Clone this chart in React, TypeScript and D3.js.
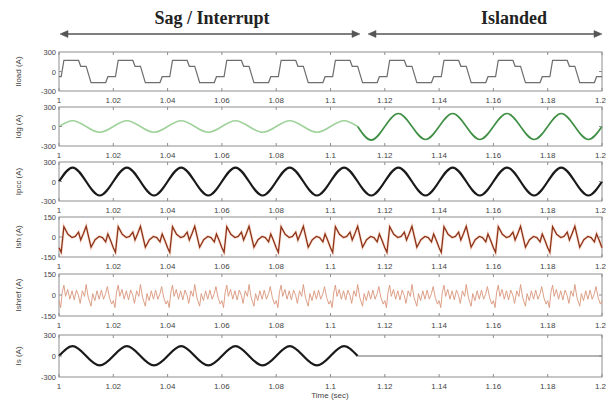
import React from 'react';
import * as d3 from 'd3';

// time axis
const timeTicks = [1, 1.02, 1.04, 1.06, 1.08, 1.1, 1.12, 1.14, 1.16, 1.18, 1.2];
const timeLabels = ['1', '1.02', '1.04', '1.06', '1.08', '1.1', '1.12', '1.14', '1.16', '1.18', '1.2'];
const sagEnd = 1.11;
const period = 0.02;
const cycleStarts = [1, 1.02, 1.04, 1.06, 1.08, 1.1, 1.12, 1.14, 1.16, 1.18];

// Iload: one cycle of the stepped load current (phase within cycle, amps)
const loadPhase = [0, 0.04, 0.09, 0.36, 0.4, 0.5, 0.59, 0.86, 0.9, 1];
const loadValue = [-80, -80, 170, 170, 80, 80, -170, -170, -80, -80];

// Ish: one cycle of the shunt current
const ishPhase = [0, 0.04, 0.09, 0.165, 0.24, 0.3, 0.36, 0.4, 0.45, 0.5, 0.59, 0.665, 0.74, 0.8, 0.86, 0.9, 0.95, 1];
const ishValue = [-80, -115, 77, 20, -4, 4, 36, -22, 26, 80, -77, -20, 4, -4, -36, 22, -26, -80];

// Ishref: one cycle of the reference current
const refPhase = [0, 0.03, 0.06, 0.09, 0.12, 0.16, 0.2, 0.24, 0.28, 0.32, 0.36, 0.39, 0.43, 0.47, 0.5, 0.54, 0.59, 0.62, 0.66, 0.7, 0.74, 0.78, 0.82, 0.86, 0.89, 0.93, 0.97, 1];
const refValue = [-40, -90, 20, 70, -10, 40, -30, 30, -35, 35, -5, -60, 30, -10, 75, -20, -80, 10, -40, 30, -30, 35, -30, 10, 60, -20, -65, -40];

// half-cycle peaks (every 0.01 s starting at t = 1)
const ipccPeaks = [215, -215, 215, -215, 215, -215, 215, -215, 215, -215, 215, -215, 215, -215, 215, -215, 215, -215, 215, -215];
const idgSagPeaks = [90, -90, 90, -90, 90, -90, 90, -90, 90, -90, 90];
const idgIslandPeaks = [-210, 200, -200, 200, -200, 200, -200, 200, -200];
const isPeaks = [140, -135, 140, -135, 140, -135, 140, -135, 140, -135, 140];

const panels = [
  { name: 'Iload (A)', top: 52, bottom: 91, lim: 300 },
  { name: 'Idg (A)', top: 107, bottom: 146, lim: 300 },
  { name: 'Ipcc (A)', top: 162, bottom: 201, lim: 300 },
  { name: 'Ish (A)', top: 217, bottom: 257, lim: 150 },
  { name: 'Ishref (A)', top: 274, bottom: 316, lim: 150 },
  { name: 'Is (A)', top: 335, bottom: 377, lim: 300 },
];

const x = d3.scaleLinear().domain([1, 1.2]).range([59, 602]);
const sans = 'Liberation Sans, Arial, sans-serif';

const tile = (phase: number[], value: number[]) => {
  const pts: [number, number][] = [];
  cycleStarts.forEach((c, i) => {
    phase.forEach((p, j) => {
      if (i > 0 && j === 0) return;
      pts.push([c + p * period, value[j]]);
    });
  });
  return pts;
};

const halfWaves = (start: number, peaks: number[]) => {
  const pts: [number, number][] = [[start, 0]];
  peaks.forEach((pk, i) => {
    const t0 = start + i * period / 2;
    pts.push([t0 + period / 4, pk]);
    pts.push([t0 + period / 2, 0]);
  });
  return pts;
};

const Panel = ({ p, children }: any) => {
  const y = d3.scaleLinear().domain([-p.lim, p.lim]).range([p.bottom, p.top]);
  const mid = y(0);
  const last = timeTicks.length - 1;
  return (
    <g>
      <rect x={x(1)} y={p.top} width={x(1.2) - x(1)} height={p.bottom - p.top} fill="#fff" stroke="#8e8e8e" strokeWidth={1} />
      {children(y)}
      {timeTicks.map((t, i) => (
        <g key={i}>
          <line x1={x(t)} x2={x(t)} y1={p.top} y2={p.top + 3} stroke="#8e8e8e" />
          <line x1={x(t)} x2={x(t)} y1={p.bottom} y2={p.bottom - 3} stroke="#8e8e8e" />
          <text x={i === last ? 606 : x(t)} y={p.bottom + 12} textAnchor={i === last ? 'end' : 'middle'} fontSize={8} fill="#444" fontFamily={sans}>{timeLabels[i]}</text>
        </g>
      ))}
      <line x1={x(1)} x2={x(1) + 3} y1={mid} y2={mid} stroke="#8e8e8e" />
      <line x1={x(1.2)} x2={x(1.2) - 3} y1={mid} y2={mid} stroke="#8e8e8e" />
      {[p.lim, 0, -p.lim].map((v) => (
        <text key={v} x={56} y={y(v) + 3} textAnchor="end" fontSize={7.5} fill="#444" fontFamily={sans}>{v}</text>
      ))}
      <text transform={`translate(21,${(p.top + p.bottom) / 2}) rotate(-90)`} textAnchor="middle" fontSize={8} fill="#444" fontFamily={sans}>{p.name}</text>
    </g>
  );
};

const Arrow = ({ x1, x2, yy }: any) => (
  <g fill="#555" stroke="#555">
    <line x1={x1 + 4} x2={x2 - 4} y1={yy} y2={yy} strokeWidth={1.5} />
    <path d={`M${x1},${yy} l8,-3.5 l0,7 z`} strokeWidth={0.5} />
    <path d={`M${x2},${yy} l-8,-3.5 l0,7 z`} strokeWidth={0.5} />
  </g>
);

export default function App() {
  const lin = (y: any) => d3.line<[number, number]>().x((d) => x(d[0])).y((d) => y(d[1]));
  const smooth = (y: any) => d3.line<[number, number]>().x((d) => x(d[0])).y((d) => y(d[1])).curve(d3.curveNatural);

  const loadPts = tile(loadPhase, loadValue);
  const ishPts = tile(ishPhase, ishValue);
  const refPts = tile(refPhase, refValue);
  const ipccPts = halfWaves(1, ipccPeaks);
  const idgSag = halfWaves(1, idgSagPeaks);
  const idgIsl = halfWaves(sagEnd, idgIslandPeaks);
  const isPts = halfWaves(1, isPeaks);
  const isFlat: [number, number][] = [[sagEnd, 0], [1.2, 0]];

  const renders = [
    (y: any) => <path d={lin(y)(loadPts) || ''} fill="none" stroke="#6e6e6e" strokeWidth={1.2} />,
    (y: any) => (
      <g fill="none">
        <path d={smooth(y)(idgSag) || ''} stroke="#9fd29a" strokeWidth={1.5} />
        <path d={smooth(y)(idgIsl) || ''} stroke="#3f8f45" strokeWidth={1.6} />
      </g>
    ),
    (y: any) => <path d={smooth(y)(ipccPts) || ''} fill="none" stroke="#1a1a1a" strokeWidth={2.2} />,
    (y: any) => (
      <g fill="none">
        <path d={lin(y)(ishPts) || ''} stroke="#f5c4aa" strokeWidth={3} opacity={0.45} />
        <path d={lin(y)(ishPts) || ''} stroke="#8e3318" strokeWidth={1.3} />
      </g>
    ),
    (y: any) => <path d={lin(y)(refPts) || ''} fill="none" stroke="#d9957a" strokeWidth={0.9} />,
    (y: any) => (
      <g fill="none">
        <path d={smooth(y)(isPts) || ''} stroke="#1a1a1a" strokeWidth={2.2} />
        <path d={lin(y)(isFlat) || ''} stroke="#666" strokeWidth={1} />
      </g>
    ),
  ];

  return (
    <svg width={606} height={400} style={{ position: 'absolute', left: 0, top: 0, background: '#fff' }}>
      <text x={212} y={24} textAnchor="middle" fontSize={18} fontWeight="bold" fill="#222" fontFamily="Liberation Serif, Times New Roman, serif">Sag / Interrupt</text>
      <text x={514} y={24} textAnchor="middle" fontSize={18} fontWeight="bold" fill="#222" fontFamily="Liberation Serif, Times New Roman, serif">Islanded</text>
      <Arrow x1={60} x2={360} yy={34} />
      <Arrow x1={368} x2={602} yy={34} />
      {panels.map((p, i) => (
        <Panel key={i} p={p}>{renders[i]}</Panel>
      ))}
      <text x={330} y={398} textAnchor="middle" fontSize={8} fill="#444" fontFamily={sans}>Time (sec)</text>
    </svg>
  );
}
